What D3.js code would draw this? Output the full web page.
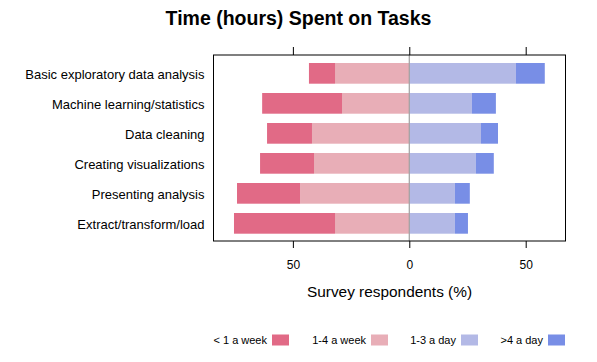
<!DOCTYPE html>
<html>
<head>
<meta charset="utf-8">
<script src="https://cdn.jsdelivr.net/npm/d3@7"></script>
<style>
    body { margin: 0; background: #fff; }
    text { font-family: "Liberation Sans", Arial, sans-serif; fill: #000; }
</style>
</head>
<body>
<div id="chart"></div>
<script>
// tasks, top to bottom
const tasks = [
    'Basic exploratory data analysis',
    'Machine learning/statistics',
    'Data cleaning',
    'Creating visualizations',
    'Presenting analysis',
    'Extract/transform/load'
]

const categories = ['< 1 a week', '1-4 a week', '1-3 a day', '>4 a day']

// percent of respondents per category, one value per task
const lessWeek = [11.2, 34.3, 19.3, 23.2, 27.1, 43.4]
const fewWeek = [31.9, 28.9, 41.8, 40.9, 46.9, 31.9]
const fewDay = [45.8, 26.9, 30.8, 28.6, 19.6, 19.6]
const manyDay = [12.4, 10.3, 7.3, 7.7, 6.4, 5.6]

const xTicks = [-50, 0, 50]

const colors = ['#e16a86', '#e8aeb7', '#b3b9e6', '#788ee6']

const W = 597, H = 362
const box = { left: 213.5, right: 565.5, top: 55, bottom: 241 }

const svg = d3.select('#chart')
    .append('svg')
    .attr('width', W)
    .attr('height', H)

////////////////////////////////////
//////////////scales////////////////
////////////////////////////////////

const xScale = d3.scaleLinear()
    .domain([-84.1, 67.1])
    .range([box.left, box.right])

const yScale = d3.scaleBand()
    .domain(tasks)
    .range([63, 233.7])
    .paddingInner(0.31)
    .paddingOuter(0)

////////////////////////////////////
//////////////wrangle///////////////
////////////////////////////////////

let segments = []
tasks.forEach((t, i) => {
    // left side stacks outward from zero
    segments.push({ task: t, cat: 1, x0: -fewWeek[i], x1: 0 })
    segments.push({ task: t, cat: 0, x0: -fewWeek[i] - lessWeek[i], x1: -fewWeek[i] })
    segments.push({ task: t, cat: 2, x0: 0, x1: fewDay[i] })
    segments.push({ task: t, cat: 3, x0: fewDay[i], x1: fewDay[i] + manyDay[i] })
})

////////////////////////////////////
/////////////// bars ///////////////
////////////////////////////////////

svg.selectAll('.seg')
    .data(segments)
    .join('rect')
    .attr('class', 'seg')
    .attr('x', d => xScale(d.x0))
    .attr('width', d => xScale(d.x1) - xScale(d.x0))
    .attr('y', d => yScale(d.task))
    .attr('height', yScale.bandwidth())
    .attr('fill', d => colors[d.cat])

// zero reference line
svg.append('line')
    .attr('x1', xScale(0)).attr('x2', xScale(0))
    .attr('y1', box.top).attr('y2', box.bottom)
    .attr('stroke', '#a0a0a0')
    .attr('stroke-width', 1.2)

// panel border
svg.append('rect')
    .attr('x', box.left)
    .attr('y', box.top)
    .attr('width', box.right - box.left)
    .attr('height', box.bottom - box.top)
    .attr('fill', 'none')
    .attr('stroke', '#000')
    .attr('stroke-width', 1)

////////////////////////////////////
///////////// axis /////////////////
////////////////////////////////////

const xAxis = d3.axisBottom(xScale)
    .tickValues(xTicks)
    .tickSize(7)
    .tickPadding(12)
    .tickFormat(d => Math.abs(d))

const gx = svg.append('g')
    .attr('transform', `translate(0,${box.bottom})`)
    .call(xAxis)
gx.select('.domain').remove()
gx.selectAll('line').attr('stroke', '#000')
gx.selectAll('text').attr('font-size', 12).style('font-family', '"Liberation Sans", Arial, sans-serif')

const gxTop = svg.append('g')
    .attr('transform', `translate(0,${box.top})`)
    .call(d3.axisTop(xScale).tickValues(xTicks).tickSize(8).tickFormat(''))
gxTop.select('.domain').remove()
gxTop.selectAll('line').attr('stroke', '#000')

svg.selectAll('.task-label')
    .data(tasks)
    .join('text')
    .attr('class', 'task-label')
    .attr('x', 204.5)
    .attr('y', d => yScale(d) + yScale.bandwidth() / 2 + 1.5)
    .attr('dy', '0.35em')
    .attr('text-anchor', 'end')
    .attr('font-size', 13)
    .text(d => d)

svg.append('text')
    .text('Survey respondents (%)')
    .attr('x', (box.left + box.right) / 2)
    .attr('y', 297)
    .attr('text-anchor', 'middle')
    .attr('font-size', 15.4)

svg.append('text')
    .text('Time (hours) Spent on Tasks')
    .attr('x', W / 2)
    .attr('y', 25)
    .attr('text-anchor', 'middle')
    .attr('font-size', 19.5)
    .attr('font-weight', 'bold')

////////////////////////////////////
///////////// legend ///////////////
////////////////////////////////////

const legendX = [267, 366, 456, 543]

const legend = svg.selectAll('.legend')
    .data(categories)
    .join('g')
    .attr('class', 'legend')
    .attr('transform', (d, i) => `translate(${legendX[i]},340)`)

legend.append('text')
    .text(d => d)
    .attr('text-anchor', 'end')
    .attr('dy', '0.35em')
    .attr('font-size', 11)

legend.append('rect')
    .attr('x', 5)
    .attr('y', -5.5)
    .attr('width', 17)
    .attr('height', 11)
    .attr('fill', (d, i) => colors[i])
</script>
</body>
</html>
